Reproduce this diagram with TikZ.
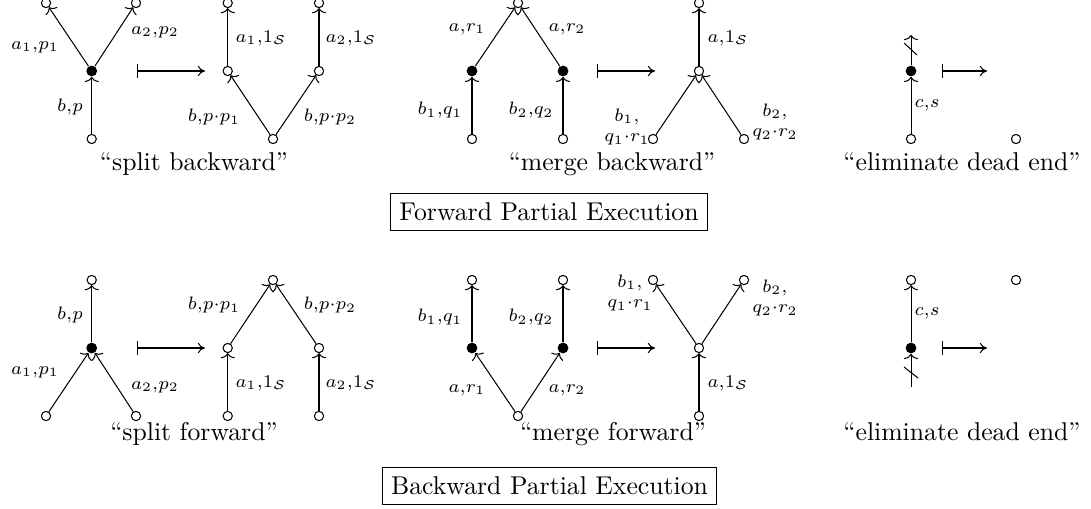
\documentclass[tikz,border=0pt]{standalone}
\usetikzlibrary{arrows.meta}
\tikzset{
  opn/.style={circle, draw, inner sep=0pt, minimum size=3.6pt},
  blk/.style={circle, fill, inner sep=0pt, minimum size=4.2pt},
  flow/.style={-{To[width=5.5pt,length=2pt]}},
  mapsarrow/.style={{Bar[width=5.5pt]}-{Computer Modern Rightarrow[width=4pt,length=2.8pt]}},
  lbl/.style={font=\scriptsize, inner sep=0pt, align=center},
  caption/.style={anchor=base, inner sep=0pt},
  framed/.style={draw, inner sep=3.5pt}
}
\begin{document}
\begin{tikzpicture}[x=0.389pt, y=-0.389pt, line width=0.4pt]
  \useasboundingbox (0,0) rectangle (1091,508);

  % split backward
  \node[opn] (sa1) at (46,3) {};
  \node[opn] (sa2) at (136,3) {};
  \node[blk] (sm)  at (91.7,71) {};
  \node[opn] (sb)  at (91.7,139) {};
  \draw[flow] (sb) -- (sm);
  \draw[flow] (sm) -- (sa1);
  \draw[flow] (sm) -- (sa2);
  \coordinate (sx1) at (137,71);
  \coordinate (sx2) at (205,71);
  \draw[mapsarrow] (sx1) -- (sx2);
  \node[opn] (ta1) at (227.7,3) {};
  \node[opn] (ta2) at (319,3) {};
  \node[opn] (tm1) at (227.7,71) {};
  \node[opn] (tm2) at (319,71) {};
  \node[opn] (tb)  at (273,139) {};
  \draw[flow] (tm1) -- (ta1);
  \draw[flow] (tm2) -- (ta2);
  \draw[flow] (tb) -- (tm1);
  \draw[flow] (tb) -- (tm2);

  % merge backward
  \node[opn] (ma)  at (518,3) {};
  \node[blk] (mk1) at (472,71) {};
  \node[blk] (mk2) at (563,71) {};
  \node[opn] (mb1) at (472,139) {};
  \node[opn] (mb2) at (563,139) {};
  \draw[flow] (mk1) -- (ma);
  \draw[flow] (mk2) -- (ma);
  \draw[flow] (mb1) -- (mk1);
  \draw[flow] (mb2) -- (mk2);
  \coordinate (mx1) at (597,71);
  \coordinate (mx2) at (655,71);
  \draw[mapsarrow] (mx1) -- (mx2);
  \node[opn] (na)  at (699,3) {};
  \node[opn] (nm)  at (699,71) {};
  \node[opn] (nb1) at (653,139) {};
  \node[opn] (nb2) at (744,139) {};
  \draw[flow] (nm) -- (na);
  \draw[flow] (nb1) -- (nm);
  \draw[flow] (nb2) -- (nm);

  % eliminate dead end (forward)
  \node[blk] (dk) at (911,71) {};
  \node[opn] (db) at (911,139) {};
  \coordinate (dt) at (911,35);
  \draw[flow] (db) -- (dk);
  \draw[flow] (dk) -- (dt);
  \draw (904,43) -- (917,55);
  \coordinate (dx1) at (942,71);
  \coordinate (dx2) at (987,71);
  \draw[mapsarrow] (dx1) -- (dx2);
  \node[opn] (eb) at (1016,139) {};

  \foreach \x/\y/\t [count=\i] in {
      35/47/{$a_1{,}p_1$}, 155/32/{$a_2{,}p_2$}, 70/107/{$b{,}p$},
      261/38/{$a_1{,}1_{\mathcal S}$}, 351/38/{$a_2{,}1_{\mathcal S}$},
      214/117/{$b{,}p{\cdot}p_1$}, 330/117/{$b{,}p{\cdot}p_2$},
      467/29/{$a{,}r_1$}, 567/29/{$a{,}r_2$},
      440/110/{$b_1{,}q_1$}, 531/110/{$b_2{,}q_2$},
      728/38/{$a{,}1_{\mathcal S}$},
      627/127/{$b_1{,}$\\$q_1{\cdot}r_1$}, 775/122/{$b_2{,}$\\$q_2{\cdot}r_2$},
      927/105/{$c{,}s$}}
    \node[lbl] (fl\i) at (\x,\y) {\t};

  \node[caption] (c1) at (194,170) {``split backward''};
  \node[caption] (c2) at (612,170) {``merge backward''};
  \node[caption] (c3) at (962,170) {``eliminate dead end''};
  \node[framed] (fwd) at (549,212) {Forward Partial Execution};

  % split forward
  \node[opn] (ua)  at (91.7,280) {};
  \node[blk] (um)  at (91.7,348) {};
  \node[opn] (ub1) at (46,416) {};
  \node[opn] (ub2) at (136,416) {};
  \draw[flow] (um) -- (ua);
  \draw[flow] (ub1) -- (um);
  \draw[flow] (ub2) -- (um);
  \coordinate (ux1) at (137,348);
  \coordinate (ux2) at (205,348);
  \draw[mapsarrow] (ux1) -- (ux2);
  \node[opn] (va)  at (273,280) {};
  \node[opn] (vm1) at (227.7,348) {};
  \node[opn] (vm2) at (319,348) {};
  \node[opn] (vb1) at (227.7,416) {};
  \node[opn] (vb2) at (319,416) {};
  \draw[flow] (vm1) -- (va);
  \draw[flow] (vm2) -- (va);
  \draw[flow] (vb1) -- (vm1);
  \draw[flow] (vb2) -- (vm2);

  % merge forward
  \node[opn] (ga1) at (472,280) {};
  \node[opn] (ga2) at (563,280) {};
  \node[blk] (gk1) at (472,348) {};
  \node[blk] (gk2) at (563,348) {};
  \node[opn] (gb)  at (518,416) {};
  \draw[flow] (gk1) -- (ga1);
  \draw[flow] (gk2) -- (ga2);
  \draw[flow] (gb) -- (gk1);
  \draw[flow] (gb) -- (gk2);
  \coordinate (gx1) at (597,348);
  \coordinate (gx2) at (655,348);
  \draw[mapsarrow] (gx1) -- (gx2);
  \node[opn] (ha1) at (653,280) {};
  \node[opn] (ha2) at (744,280) {};
  \node[opn] (hm)  at (699,348) {};
  \node[opn] (hb)  at (699,416) {};
  \draw[flow] (hm) -- (ha1);
  \draw[flow] (hm) -- (ha2);
  \draw[flow] (hb) -- (hm);

  % eliminate dead end (backward)
  \node[opn] (ka) at (911,280) {};
  \node[blk] (kk) at (911,348) {};
  \coordinate (kb) at (911,387);
  \draw[flow] (kk) -- (ka);
  \draw[flow] (kb) -- (kk);
  \draw (904,367) -- (918,378);
  \coordinate (kx1) at (942,348);
  \coordinate (kx2) at (987,348);
  \draw[mapsarrow] (kx1) -- (kx2);
  \node[opn] (la) at (1016,280) {};

  \foreach \x/\y/\t [count=\i] in {
      70/315/{$b{,}p$}, 35/372/{$a_1{,}p_1$}, 155/387/{$a_2{,}p_2$},
      214/305/{$b{,}p{\cdot}p_1$}, 330/305/{$b{,}p{\cdot}p_2$},
      261/383/{$a_1{,}1_{\mathcal S}$}, 351/383/{$a_2{,}1_{\mathcal S}$},
      440/317/{$b_1{,}q_1$}, 531/317/{$b_2{,}q_2$},
      467/390/{$a{,}r_1$}, 567/390/{$a{,}r_2$},
      630/293/{$b_1{,}$\\$q_1{\cdot}r_1$}, 775/298/{$b_2{,}$\\$q_2{\cdot}r_2$},
      728/383/{$a{,}1_{\mathcal S}$}, 927/313/{$c{,}s$}}
    \node[lbl] (bl\i) at (\x,\y) {\t};

  \node[caption] (c4) at (194,440) {``split forward''};
  \node[caption] (c5) at (613,440) {``merge forward''};
  \node[caption] (c6) at (962,440) {``eliminate dead end''};
  \node[framed] (bwd) at (549.5,486) {Backward Partial Execution};
\end{tikzpicture}
\end{document}
